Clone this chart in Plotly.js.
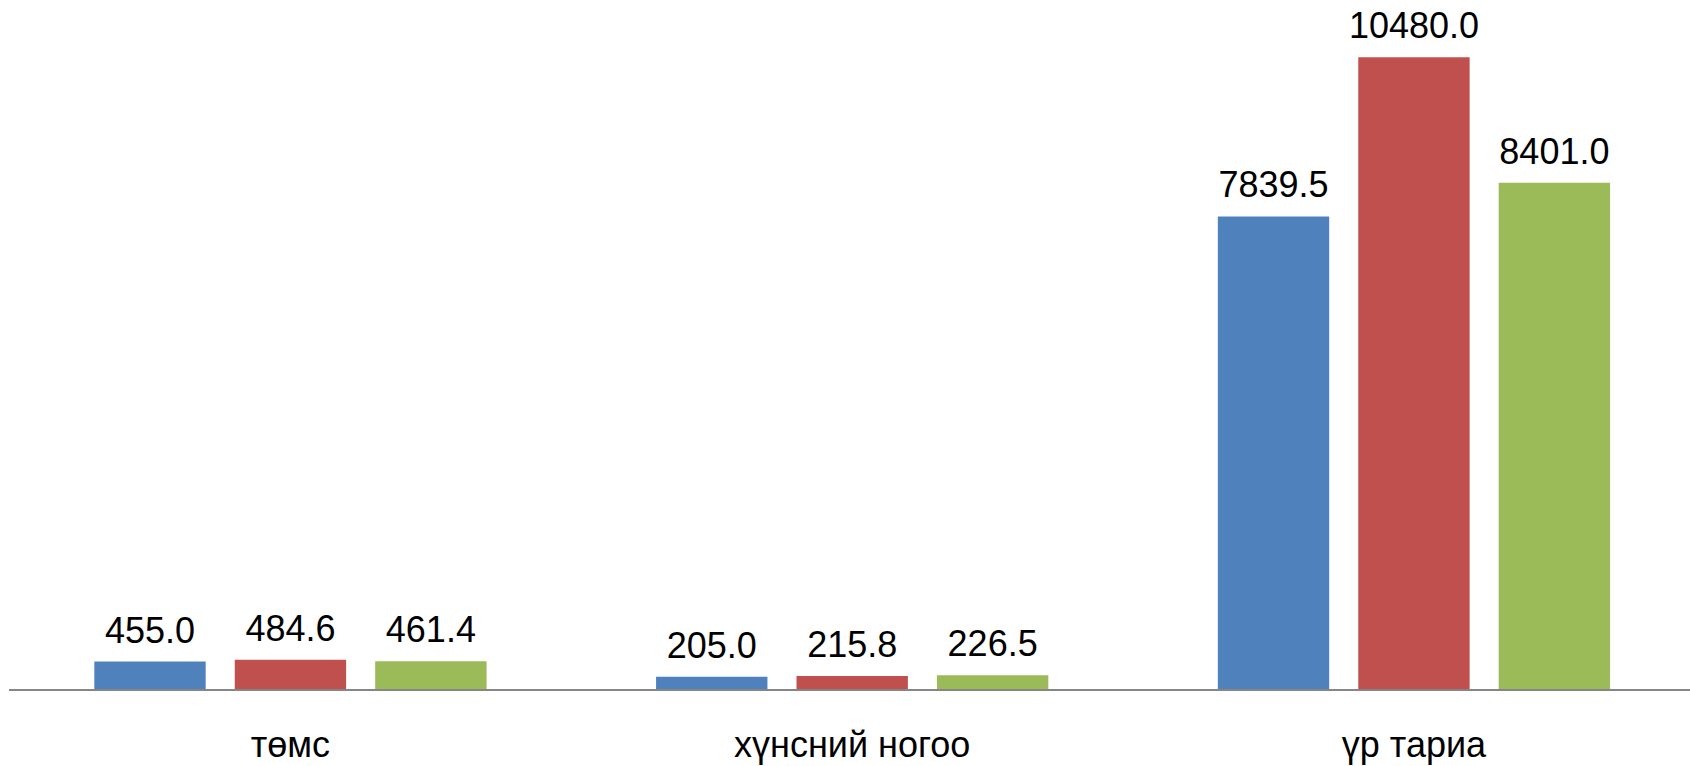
<!DOCTYPE html>
<html>
<head>
<meta charset="utf-8">
<script src="https://cdn.plot.ly/plotly-3.0.1.min.js"></script>
<style>html,body{margin:0;padding:0;background:#fff;}#chart{width:1690px;height:766px;}</style>
</head>
<body>
<div id="chart"></div>
<script>
var categories = ["төмс", "хүнсний ногоо", "үр тариа"];
var series1 = [455.0, 205.0, 7839.5];
var series2 = [484.6, 215.8, 10480.0];
var series3 = [461.4, 226.5, 8401.0];
var seriesNames = ["1", "2", "3"];
var colors = ["#4F81BD", "#C0504D", "#9BBB59"];

var FONT = 'Liberation Sans, Arial, sans-serif';
var allSeries = [series1, series2, series3];
var traces = [];
allSeries.forEach(function (vals, i) {
  traces.push({
    type: 'bar',
    name: seriesNames[i],
    x: categories,
    y: vals,
    marker: {color: colors[i]},
    hoverinfo: 'none'
  });
});
// label layer: same values on an overlaid axis, shifted slightly so labels sit a bit above bars
allSeries.forEach(function (vals, i) {
  traces.push({
    type: 'bar',
    name: seriesNames[i] + ' labels',
    x: categories,
    y: vals,
    yaxis: 'y2',
    marker: {color: 'rgba(0,0,0,0)'},
    texttemplate: '%{y:.1f}',
    textposition: 'outside',
    constraintext: 'none',
    cliponaxis: false,
    textfont: {family: FONT, size: 36, color: '#000'},
    hoverinfo: 'none'
  });
});

var yMax = 11431;
var labelLift = 133;

var layout = {
  width: 1690,
  height: 766,
  margin: {l: 9, r: 0, t: 0, b: 77},
  paper_bgcolor: '#ffffff',
  plot_bgcolor: '#ffffff',
  showlegend: false,
  barmode: 'group',
  bargap: 0.25,
  bargroupgap: 0.207,
  font: {family: FONT, size: 36, color: '#000'},
  xaxis: {
    range: [-0.501, 2.4914],
    showline: true,
    linecolor: '#868686',
    linewidth: 2,
    ticks: '',
    showgrid: false,
    zeroline: false,
    tickfont: {family: FONT, size: 36, color: '#000'},
    ticklabelstandoff: 23
  },
  yaxis: {
    range: [0, yMax],
    visible: false,
    showgrid: false,
    zeroline: false
  },
  yaxis2: {
    overlaying: 'y',
    range: [-labelLift, yMax - labelLift],
    visible: false,
    showgrid: false,
    zeroline: false
  }
};

Plotly.newPlot('chart', traces, layout, {displayModeBar: false, staticPlot: true});
</script>
</body>
</html>
